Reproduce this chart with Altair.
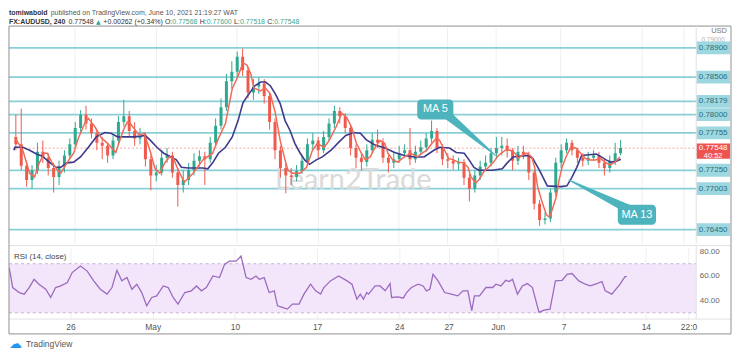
import altair as alt
import pandas as pd

FONT = "Liberation Sans, Arial, sans-serif"
FONT2 = "Liberation Sans, Arial, sans-serif"

# ---------------- data ----------------
# x values are trading days (weekends removed); 0 = Mon 26 Apr 2021
candle_first_day = -3.63
candle_hours = 8
first_open = 0.7770
candle_close = [
    0.7760, 0.7731, 0.7712, 0.7725, 0.7750, 0.7742, 0.7728, 0.7716, 0.7730, 0.7745,
    0.7760, 0.7782, 0.7800, 0.7788, 0.7775, 0.7762, 0.7758, 0.7745, 0.7765, 0.7790,
    0.7798, 0.7778, 0.7768, 0.7772, 0.7740, 0.7718, 0.7722, 0.7742, 0.7745, 0.7722,
    0.7705, 0.7712, 0.7725, 0.7738, 0.7744, 0.7740, 0.7762, 0.7785, 0.7810, 0.7845,
    0.7858, 0.7878, 0.7860, 0.7830, 0.7838, 0.7842, 0.7825, 0.7790, 0.7752, 0.7728,
    0.7718, 0.7716, 0.7724, 0.7738, 0.7760, 0.7765, 0.7752, 0.7770, 0.7788, 0.7805,
    0.7798, 0.7782, 0.7755, 0.7742, 0.7736, 0.7752, 0.7766, 0.7762, 0.7742, 0.7735,
    0.7740, 0.7748, 0.7752, 0.7740, 0.7750, 0.7756, 0.7768, 0.7778, 0.7755, 0.7740,
    0.7738, 0.7734, 0.7736, 0.7715, 0.7700, 0.7718, 0.7730, 0.7735, 0.7748, 0.7755,
    0.7758, 0.7752, 0.7738, 0.7750, 0.7746, 0.7722, 0.7680, 0.7658, 0.7660, 0.7695,
    0.7735, 0.7752, 0.7762, 0.7752, 0.7742, 0.7738, 0.7742, 0.7745, 0.7735, 0.7728,
    0.7738, 0.7748, 0.7755]
candle_high = [
    0.7800, 0.7808, 0.7738, 0.7732, 0.7762, 0.7765, 0.7748, 0.7735, 0.7738, 0.7752,
    0.7768, 0.7790, 0.7806, 0.7812, 0.7795, 0.7780, 0.7770, 0.7762, 0.7772, 0.7798,
    0.7820, 0.7805, 0.7790, 0.7782, 0.7776, 0.7745, 0.7732, 0.7752, 0.7755, 0.7750,
    0.7728, 0.7725, 0.7735, 0.7748, 0.7752, 0.7750, 0.7770, 0.7795, 0.7822, 0.7855,
    0.7872, 0.7885, 0.7889, 0.7865, 0.7848, 0.7850, 0.7848, 0.7830, 0.7795, 0.7758,
    0.7735, 0.7728, 0.7732, 0.7745, 0.7768, 0.7775, 0.7770, 0.7778, 0.7795, 0.7812,
    0.7810, 0.7802, 0.7786, 0.7760, 0.7748, 0.7760, 0.7775, 0.7780, 0.7768, 0.7748,
    0.7750, 0.7758, 0.7760, 0.7782, 0.7758, 0.7765, 0.7775, 0.7792, 0.7782, 0.7760,
    0.7748, 0.7745, 0.7742, 0.7740, 0.7720, 0.7725, 0.7738, 0.7745, 0.7755, 0.7770,
    0.7770, 0.7768, 0.7755, 0.7758, 0.7758, 0.7750, 0.7725, 0.7685, 0.7668, 0.7700,
    0.7742, 0.7760, 0.7768, 0.7766, 0.7755, 0.7748, 0.7750, 0.7752, 0.7750, 0.7740,
    0.7745, 0.7762, 0.7766]
candle_low = [
    0.7752, 0.7725, 0.7703, 0.7700, 0.7720, 0.7735, 0.7718, 0.7695, 0.7705, 0.7722,
    0.7740, 0.7755, 0.7775, 0.7780, 0.7768, 0.7752, 0.7740, 0.7735, 0.7740, 0.7760,
    0.7784, 0.7770, 0.7758, 0.7760, 0.7730, 0.7698, 0.7710, 0.7718, 0.7735, 0.7715,
    0.7676, 0.7695, 0.7705, 0.7718, 0.7730, 0.7705, 0.7735, 0.7758, 0.7780, 0.7805,
    0.7835, 0.7850, 0.7852, 0.7822, 0.7820, 0.7828, 0.7815, 0.7780, 0.7740, 0.7715,
    0.7694, 0.7705, 0.7710, 0.7720, 0.7732, 0.7752, 0.7742, 0.7748, 0.7765, 0.7782,
    0.7788, 0.7775, 0.7745, 0.7728, 0.7725, 0.7730, 0.7748, 0.7755, 0.7735, 0.7722,
    0.7728, 0.7735, 0.7742, 0.7732, 0.7735, 0.7745, 0.7750, 0.7762, 0.7748, 0.7732,
    0.7728, 0.7726, 0.7725, 0.7705, 0.7683, 0.7695, 0.7712, 0.7725, 0.7730, 0.7742,
    0.7745, 0.7742, 0.7725, 0.7732, 0.7740, 0.7712, 0.7672, 0.7650, 0.7652, 0.7655,
    0.7690, 0.7728, 0.7748, 0.7745, 0.7735, 0.7730, 0.7732, 0.7738, 0.7728, 0.7718,
    0.7722, 0.7732, 0.7745]

ma5_day = [
    -3.69, -3.20, -2.78, -2.48, -2.18, -1.87, -1.69, -1.39, -0.97, -0.85,
    -0.48, -0.06, 0.24, 0.66, 0.85, 1.27, 1.63, 2.05, 2.54, 2.84,
    3.08, 3.26, 3.44, 3.75, 3.99, 4.29, 4.65, 4.95, 5.26, 5.56,
    5.86, 6.10, 6.40, 6.77, 7.31, 7.92, 8.52, 8.88, 9.31, 9.73,
    10.09, 10.39, 10.63, 10.88, 11.06, 11.48, 11.78, 12.08, 12.39, 12.69,
    12.99, 13.17, 13.47, 13.90, 14.32, 14.68, 14.98, 15.41, 15.71, 16.13,
    16.50, 16.80, 17.10, 17.40, 17.70, 17.95, 18.25, 18.55, 18.85, 19.15,
    19.34, 19.64, 19.94, 20.36, 20.73, 21.15, 21.45, 21.75, 22.05, 22.36,
    22.54, 22.84, 23.08, 23.38, 23.69, 23.99, 24.29, 24.47, 24.77, 24.95,
    25.26, 25.56, 25.86, 26.16, 26.59, 26.89, 27.19, 27.37, 27.61, 27.92,
    28.22, 28.40, 28.58, 28.82, 29.12, 29.31, 29.49, 29.73, 29.91, 30.09,
    30.33, 30.63, 30.94, 31.24, 31.54, 31.84, 32.15, 32.45, 32.75, 33.05,
    33.35, 33.66]
ma5_price = [
    0.7769, 0.7752, 0.7721, 0.7716, 0.7735, 0.7748, 0.7748, 0.7735, 0.7723, 0.7721,
    0.7735, 0.7748, 0.7769, 0.7790, 0.7795, 0.7783, 0.7769, 0.7761, 0.7749, 0.7769,
    0.7783, 0.7790, 0.7788, 0.7779, 0.7772, 0.7775, 0.7752, 0.7728, 0.7721, 0.7735,
    0.7743, 0.7741, 0.7725, 0.7709, 0.7721, 0.7739, 0.7748, 0.7768, 0.7788, 0.7835,
    0.7852, 0.7870, 0.7867, 0.7855, 0.7836, 0.7832, 0.7836, 0.7828, 0.7802, 0.7765,
    0.7739, 0.7725, 0.7721, 0.7721, 0.7729, 0.7752, 0.7761, 0.7756, 0.7765, 0.7783,
    0.7802, 0.7796, 0.7783, 0.7761, 0.7748, 0.7739, 0.7743, 0.7756, 0.7765, 0.7761,
    0.7748, 0.7739, 0.7736, 0.7743, 0.7748, 0.7743, 0.7748, 0.7752, 0.7761, 0.7769,
    0.7765, 0.7752, 0.7741, 0.7739, 0.7736, 0.7735, 0.7729, 0.7716, 0.7708, 0.7712,
    0.7723, 0.7729, 0.7736, 0.7745, 0.7752, 0.7752, 0.7748, 0.7741, 0.7745, 0.7748,
    0.7743, 0.7729, 0.7703, 0.7685, 0.7665, 0.7662, 0.7672, 0.7689, 0.7712, 0.7729,
    0.7743, 0.7756, 0.7755, 0.7748, 0.7741, 0.7739, 0.7739, 0.7741, 0.7736, 0.7732,
    0.7736, 0.7743]

ma13_day = [
    -3.75, -3.69, -3.20, -2.78, -2.36, -1.99, -1.57, -1.15, -0.85, -0.48,
    -0.06, 0.36, 0.85, 1.33, 1.87, 2.24, 2.66, 3.08, 3.69, 4.05,
    4.35, 4.65, 5.08, 5.50, 5.86, 6.28, 6.59, 7.01, 7.49, 7.92,
    8.22, 8.52, 8.88, 9.31, 9.73, 10.09, 10.39, 10.76, 11.12, 11.48,
    11.78, 12.08, 12.39, 12.69, 12.99, 13.29, 13.60, 13.90, 14.20, 14.50,
    14.92, 15.29, 15.83, 16.31, 16.74, 17.22, 17.64, 18.01, 18.55, 19.15,
    19.76, 20.36, 20.97, 21.57, 22.18, 22.54, 23.14, 23.56, 24.05, 24.35,
    24.65, 24.95, 25.80, 26.40, 26.71, 27.07, 27.49, 27.98, 28.28, 28.70,
    29.18, 30.03, 30.39, 30.69, 31.00, 31.30, 32.21, 32.51, 32.81, 33.11,
    33.41, 33.72]
ma13_price = [
    0.7752, 0.7756, 0.7756, 0.7752, 0.7747, 0.7744, 0.7736, 0.7729, 0.7729, 0.7735,
    0.7736, 0.7743, 0.7756, 0.7770, 0.7776, 0.7775, 0.7770, 0.7770, 0.7770, 0.7771,
    0.7772, 0.7766, 0.7756, 0.7748, 0.7744, 0.7739, 0.7729, 0.7728, 0.7728, 0.7728,
    0.7727, 0.7735, 0.7748, 0.7756, 0.7770, 0.7792, 0.7816, 0.7828, 0.7839, 0.7844,
    0.7844, 0.7839, 0.7828, 0.7815, 0.7792, 0.7779, 0.7761, 0.7749, 0.7739, 0.7733,
    0.7739, 0.7743, 0.7752, 0.7763, 0.7772, 0.7776, 0.7775, 0.7766, 0.7759, 0.7755,
    0.7749, 0.7745, 0.7743, 0.7743, 0.7752, 0.7756, 0.7755, 0.7749, 0.7748, 0.7739,
    0.7729, 0.7725, 0.7725, 0.7727, 0.7735, 0.7743, 0.7744, 0.7745, 0.7741, 0.7725,
    0.7704, 0.7703, 0.7704, 0.7715, 0.7729, 0.7745, 0.7747, 0.7743, 0.7739, 0.7736,
    0.7737, 0.7740]

rsi_day = [
    -3.74, -3.66, -3.52, -3.12, -2.82, -2.52, -2.22, -1.92, -1.51, -1.21,
    -0.91, -0.60, -0.20, 0.10, 0.60, 1.01, 1.41, 1.81, 2.22, 2.52,
    2.82, 3.12, 3.43, 3.73, 4.03, 4.33, 4.63, 4.94, 5.24, 5.64,
    5.94, 6.24, 6.54, 6.95, 7.35, 7.66, 7.96, 8.26, 8.66, 9.06,
    9.37, 9.67, 10.07, 10.37, 10.68, 10.98, 11.28, 11.48, 11.78, 12.08,
    12.39, 12.59, 12.89, 13.19, 13.49, 13.90, 14.20, 14.60, 14.91, 15.21,
    15.41, 15.81, 16.31, 16.82, 17.12, 17.42, 17.63, 17.82, 18.02, 18.13,
    18.53, 18.83, 19.14, 19.44, 19.53, 19.94, 20.24, 20.44, 20.74, 21.15,
    21.45, 21.65, 21.86, 22.05, 22.36, 22.76, 23.16, 23.56, 23.87, 24.17,
    24.41, 24.57, 24.88, 25.27, 25.68, 25.88, 26.18, 26.48, 26.69, 26.89,
    27.19, 27.49, 27.79, 28.10, 28.50, 28.80, 29.17, 29.50, 29.91, 30.21,
    30.51, 30.92, 31.32, 31.62, 32.02, 32.33, 32.53, 32.93, 33.43, 33.73,
    33.84]
rsi_value = [
    66.8, 61.4, 50.6, 46.5, 45.2, 50.6, 57.3, 53.3, 49.2, 42.5,
    50.6, 51.9, 54.7, 62.8, 68.1, 64.0, 56.0, 49.2, 45.2, 50.6,
    64.6, 56.0, 58.7, 49.2, 53.3, 46.5, 35.7, 42.5, 43.8, 51.9,
    50.6, 42.5, 37.1, 46.5, 47.9, 51.9, 47.9, 50.6, 60.0, 58.7,
    69.5, 72.1, 72.1, 76.2, 58.7, 57.3, 60.0, 57.3, 58.7, 46.5,
    47.9, 35.7, 34.4, 33.0, 37.1, 37.1, 45.2, 53.3, 47.9, 45.2,
    50.6, 56.0, 60.0, 56.0, 53.3, 41.1, 45.2, 41.1, 46.5, 45.2,
    51.9, 51.9, 47.9, 53.8, 42.5, 43.0, 41.9, 46.5, 50.6, 53.3,
    51.9, 47.9, 49.2, 61.4, 56.0, 46.5, 45.2, 43.8, 47.9, 47.9,
    31.7, 43.8, 43.8, 50.6, 50.6, 53.3, 51.9, 56.5, 55.5, 57.3,
    45.2, 51.9, 53.8, 50.6, 30.4, 32.2, 33.0, 56.0, 56.5, 61.4,
    62.0, 56.0, 53.3, 51.9, 53.8, 55.5, 47.9, 45.2, 53.3, 59.5,
    59.5]

level_price = [0.78900, 0.78506, 0.78179, 0.78000, 0.77755, 0.77250, 0.77003, 0.76450]
level_label = ["0.78900", "0.78506", "0.78179", "0.78000", "0.77755", "0.77250", "0.77003", "0.76450"]
last_price = 0.77548
last_label = "0.77548"
countdown = "40:52"

x_tick_day = [0, 5, 10, 15, 20, 23, 26, 30, 35, 37.6]
x_tick_label = ["26", "May", "10", "17", "24", "27", "Jun", "7", "14", "22:0"]
rsi_tick = [40, 60, 80]
rsi_band = [30, 70]

# ---------------- tables ----------------
n = len(candle_close)
step = candle_hours / 24
opens = [first_open] + candle_close[:-1]
candles = pd.DataFrame({
    "d": [candle_first_day + i * step for i in range(n)],
    "o": opens, "c": candle_close, "h": candle_high, "l": candle_low,
})
candles["dir"] = ["up" if c >= o else "down" for o, c in zip(opens, candle_close)]

ma5 = pd.DataFrame({"d": ma5_day, "p": ma5_price})
ma13 = pd.DataFrame({"d": ma13_day, "p": ma13_price})
levels = pd.DataFrame({"p": level_price, "label": level_label})
last = pd.DataFrame({"p": [last_price], "label": [last_label], "cd": [countdown]})
rsi = pd.DataFrame({"d": rsi_day, "v": rsi_value})
band = pd.DataFrame({"a": [rsi_band[0]], "b": [rsi_band[1]]})
bandlines = pd.DataFrame({"v": rsi_band})

# annotation call-outs (trading day / price coordinates)
boxes = pd.DataFrame({
    "d1": [21.15, 33.53], "d2": [23.38, 35.89],
    "p1": [0.78203, 0.76784], "p2": [0.77936, 0.76516],
    "dc": [22.27, 34.71], "pc": [0.78070, 0.76650],
    "label": ["MA 5", "MA 13"],
})
tails = pd.DataFrame({
    "id": ["a", "a", "b", "b"],
    "d": [22.96, 25.98, 34.14, 30.51],
    "p": [0.78003, 0.77450, 0.76731, 0.77119],
    "w": [9, 1, 9, 1],
})
mark_wm = pd.DataFrame({"d": [17.2], "p": [0.7712], "t": ["Learn2Trade"]})
top_lab = pd.DataFrame({"p": [0.79005], "t": ["0.79000"]})

# ---------------- styling ----------------
W, H1, H2 = 690, 218, 72
XDOM = [-3.746, 37.946]
PDOM = [0.76262, 0.79181]
RDOM = [24.9, 83.2]
UP, DOWN = "#2fa88f", "#ef5a4c"
MA5C, MA13C = "#f06a56", "#3d3a8c"
LEVEL, BADGE, BADGE_T = "#88cfd8", "#9dd8e0", "#2c6c76"
ANN = "#4db3bd"
FRAME, SEP = "#8f8f8f", "#e2e2e2"

xscale = alt.Scale(domain=XDOM, nice=False, zero=False)
pscale = alt.Scale(domain=PDOM, nice=False, zero=False)
rscale = alt.Scale(domain=RDOM, nice=False, zero=False)

xaxis_top = alt.Axis(values=x_tick_day, labels=False, ticks=False, domain=False,
                     grid=True, gridColor="#efefef", title=None)
parts = [f"datum.value == {v} ? '{t}'" for v, t in zip(x_tick_day, x_tick_label)]
label_expr = " : ".join(parts) + " : ''"
xaxis_bot = alt.Axis(values=x_tick_day, labelExpr=label_expr, ticks=False, tickSize=0,
                     domain=False, grid=True, gridColor="#efefef", title=None,
                     labelFontSize=8.5, labelColor="#555", labelFont=FONT2,
                     labelPadding=4, labelOverlap=False, labelFlush=False)
raxis = alt.Axis(orient="right", values=rsi_tick, format=".2f", ticks=False, tickSize=0,
                 domain=False, grid=False, title=None, labelFontSize=8,
                 labelColor="#666", labelFont=FONT2, labelPadding=5)


def XT(f="d"):
    return alt.X(f"{f}:Q", scale=xscale, axis=xaxis_top)


def XB(f="d"):
    return alt.X(f"{f}:Q", scale=xscale, axis=xaxis_bot)


def P(f):
    return alt.Y(f"{f}:Q", scale=pscale, axis=None)


def R(f):
    return alt.Y(f"{f}:Q", scale=rscale, axis=raxis)


one = pd.DataFrame({"k": [0]})


def label(txt, x, y, size=7, color="#333", weight="normal", align="left",
          baseline="top", font=FONT):
    return alt.Chart(one).mark_text(text=txt, fontSize=size, color=color, fontWeight=weight,
                                    align=align, baseline=baseline, font=font).encode(
        x=alt.value(x), y=alt.value(y))


def hrule(x, x2, y, color, w=1):
    return alt.Chart(one).mark_rule(color=color, strokeWidth=w).encode(
        x=alt.value(x), x2=alt.value(x2), y=alt.value(y))


def vrule(x, y, y2, color, w=1):
    return alt.Chart(one).mark_rule(color=color, strokeWidth=w).encode(
        x=alt.value(x), y=alt.value(y), y2=alt.value(y2))


cscale = alt.Scale(domain=["up", "down"], range=[UP, DOWN])
badge_shape = "M-1,-0.38L1,-0.38L1,0.38L-1,0.38Z"
last_shape = "M-1,-0.28L1,-0.28L1,0.62L-1,0.62Z"
BX = 709

top_layers = [
    alt.Chart(levels).mark_rule(color=LEVEL, strokeWidth=1.8).encode(
        y=P("p"), x=alt.value(0), x2=alt.value(694)),
    alt.Chart(last).mark_rule(color="#f4a9a3", strokeWidth=1, strokeDash=[2, 2]).encode(
        y=P("p"), x=alt.value(0), x2=alt.value(692)),
    alt.Chart(mark_wm).mark_text(fontSize=29, color="#dadada", font="Lato").encode(
        x=XT(), y=P("p"), text="t:N"),
    alt.Chart(candles).mark_rule(strokeWidth=1, clip=True).encode(
        x=XT(), y=P("l"), y2="h:Q",
        color=alt.Color("dir:N", scale=cscale, legend=None)),
    alt.Chart(candles).mark_bar(width=3, clip=True).encode(
        x=XT(), y=P("o"), y2="c:Q",
        color=alt.Color("dir:N", scale=cscale, legend=None)),
    alt.Chart(ma13).mark_line(strokeWidth=1.6, clip=True, color=MA13C).encode(
        x=XT(), y=P("p")),
    alt.Chart(ma5).mark_line(strokeWidth=1.5, clip=True, color=MA5C).encode(
        x=XT(), y=P("p")),
    alt.Chart(tails).mark_trail(color=ANN).encode(
        x=XT(), y=P("p"), size=alt.Size("w:Q", scale=None, legend=None), detail="id:N"),
    alt.Chart(boxes).mark_rect(color=ANN, cornerRadius=4).encode(
        x=XT("d1"), x2="d2:Q", y=P("p1"), y2="p2:Q"),
    alt.Chart(boxes).mark_text(color="white", fontSize=11, font=FONT2).encode(
        x=XT("dc"), y=P("pc"), text="label:N"),
    alt.Chart(top_lab).mark_text(color="#b5b5b5", fontSize=6.5, font=FONT2).encode(
        x=alt.value(BX), y=P("p"), text="t:N"),
    alt.Chart(levels).mark_point(shape=badge_shape, size=34 * 34, filled=True, color=BADGE,
                                 opacity=1, strokeWidth=0).encode(
        x=alt.value(BX), y=P("p")),
    alt.Chart(levels).mark_text(color=BADGE_T, fontSize=8, font=FONT2).encode(
        x=alt.value(BX), y=P("p"), text="label:N"),
    alt.Chart(last).mark_point(shape=last_shape, size=34 * 34, filled=True, color="#ef5350",
                               opacity=1, strokeWidth=0).encode(
        x=alt.value(BX), y=P("p")),
    alt.Chart(last).mark_text(color="white", fontSize=8, font=FONT2).encode(
        x=alt.value(BX), y=P("p"), text="label:N"),
    alt.Chart(last).mark_text(color="white", fontSize=7.5, font=FONT2, dy=8).encode(
        x=alt.value(BX), y=P("p"), text="cd:N"),
    label("USD", 715, 4, size=7.5, color="#777", align="center", baseline="middle", font=FONT2),
    hrule(0, 727, -1, FRAME),
    vrule(0, -1, H1, FRAME),
    vrule(727, -1, H1, FRAME),
    vrule(692, -1, H1, SEP),
]

# header (two lines above the frame)
DARK, GRAYT, TEAL, GREEN = "#333333", "#555555", "#3aa891", "#26a69a"
top_layers += [
    label("tomiwabold", 0, -18, color=DARK, weight="bold"),
    label("published on TradingView.com, June 10, 2021 21:19:27 WAT", 42, -18, color=GRAYT),
    label("FX:AUDUSD, 240", 0, -9, color=DARK, weight="bold"),
    label("0.77548", 60, -9, color=DARK),
    label("▲", 87.5, -8.5, size=6, color=GREEN, font="DejaVu Sans"),
    label("+0.00262 (+0.34%)", 95, -9, color=DARK),
    label("O:", 157, -9, color=DARK),
    label("0.77568", 164.5, -9, color=TEAL),
    label("H:", 192, -9, color=DARK),
    label("0.77600", 199, -9, color=TEAL),
    label("L:", 226.5, -9, color=DARK),
    label("0.77518", 232.5, -9, color=TEAL),
    label("C:", 260, -9, color=DARK),
    label("0.77548", 267, -9, color=TEAL),
]

top = alt.layer(*top_layers).properties(width=W, height=H1)

bot_layers = [
    alt.Chart(band).mark_rect(color="#f3e6fb").encode(
        x=alt.value(0), x2=alt.value(692), y=R("a"), y2="b:Q"),
    alt.Chart(bandlines).mark_rule(color="#c7b3d4", strokeWidth=1, strokeDash=[3, 3]).encode(
        x=alt.value(0), x2=alt.value(692), y=R("v")),
    alt.Chart(rsi).mark_line(color="#9b6bbf", strokeWidth=1.3, clip=True).encode(
        x=XB(), y=R("v")),
    label("RSI (14, close)", 5, 10, size=8, color="#444", baseline="middle"),
    hrule(0, 727, -2, SEP),
    hrule(0, 727, H2, SEP),
    hrule(0, 727, 87, FRAME),
    vrule(0, -4, 87, FRAME),
    vrule(727, -4, 87, FRAME),
    vrule(692, -2, H2, SEP),
    label("☁", 0, 97, size=13, color="#2196f3", baseline="middle", font="DejaVu Sans"),
    label("TradingView", 17, 97, size=8.5, color="#555", baseline="middle", font=FONT2),
]
bottom = alt.layer(*bot_layers).properties(width=W, height=H2)

chart = alt.vconcat(top, bottom, spacing=4, bounds="flush").properties(
    padding=0, background="white"
).configure_view(stroke=None)

chart.save("out.html", embed_options={"renderer": "svg", "actions": False})
